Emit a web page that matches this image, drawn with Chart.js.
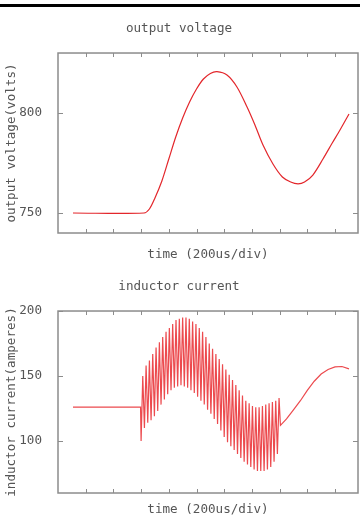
<!DOCTYPE html>
<html>
<head>
<meta charset="utf-8">
<script src="https://cdn.jsdelivr.net/npm/chart.js@4/dist/chart.umd.min.js"></script>
<style>
  html, body { margin: 0; padding: 0; background: #fff; overflow: hidden; }
  body { width: 360px; height: 516px; position: relative; }
  #bar { position: absolute; left: 0; top: 4px; width: 360px; height: 3px; background: #000; }
  canvas { position: absolute; left: 0; filter: blur(0.4px); }
  #volt { top: 0; }
  #curr { top: 266px; }
</style>
</head>
<body>
<div id="bar"></div>
<canvas id="volt" width="360" height="266"></canvas>
<canvas id="curr" width="360" height="260"></canvas>
<script>
// time in microseconds (200us per division)
const timeTicks = [200, 400, 600, 800, 1000, 1200, 1400, 1600, 1800, 2000];

const voltTime = [108, 621, 660, 700, 750, 800, 850, 900, 950, 1000, 1050, 1100, 1148,
  1220, 1292, 1365, 1422, 1480, 1552, 1620, 1680, 1733, 1780, 1840, 1913, 1980, 2036, 2101];
const voltValues = [750, 750, 752, 757.5, 766, 777, 788, 797.5, 805.5, 812, 817, 819.8, 820.7,
  819, 813, 803, 794, 784, 774.5, 768, 765.5, 764.6, 765.5, 769, 777, 785, 791.5, 799.5];
const voltTicks = [750, 800];

// switching ripple: low / high pairs, then the recovery after the ripple stops
const currTime = [108, 596,
  600, 612, 624, 636, 648, 660, 672, 684, 696, 708, 720, 732, 744, 756,
  768, 780, 792, 804, 816, 828, 840, 852, 864, 876, 888, 900, 912, 924,
  936, 948, 960, 972, 984, 996, 1008, 1020, 1032, 1044, 1056, 1068, 1080, 1092,
  1104, 1116, 1128, 1140, 1152, 1164, 1176, 1188, 1200, 1212, 1224, 1236, 1248, 1260,
  1272, 1284, 1296, 1308, 1320, 1332, 1344, 1356, 1368, 1380, 1392, 1404, 1416, 1428,
  1440, 1452, 1464, 1476, 1488, 1500, 1512, 1524, 1536, 1548, 1560, 1572, 1584, 1596,
  1606, 1650, 1700, 1750, 1800, 1850, 1900, 1950, 2000, 2050, 2101];
const currValues = [126, 126,
  100, 150, 110, 158, 114, 162, 116, 167, 119, 172, 123, 176, 128, 180,
  132, 184, 136, 187, 139, 190, 141, 193, 142, 194, 143, 195, 142, 195,
  141, 194, 139, 192, 137, 190, 134, 187, 131, 184, 128, 180, 124, 175,
  121, 171, 117, 167, 113, 163, 108, 159, 103, 155, 99, 151, 96, 147,
  93, 143, 90, 139, 87, 135, 84, 131, 82, 129, 80, 127, 78, 126,
  77, 126, 77, 127, 77, 128, 78, 129, 80, 130, 84, 131, 90, 133,
  112, 117, 124, 131, 139, 146, 151.5, 155, 157, 157.3, 155.5];
const currTicks = [100, 150, 200];

const mono = { family: '"DejaVu Sans Mono", monospace', size: 12.6, weight: 'normal' };
const ink = '#555';

const frame = {
  id: 'frame',
  beforeDatasetsDraw(chart) {
    const { ctx, chartArea: a, scales: { x, y } } = chart;
    ctx.save();
    ctx.strokeStyle = '#8c8c8c';
    ctx.lineWidth = 1.5;
    ctx.strokeRect(a.left, a.top, a.width, a.height);
    ctx.lineWidth = 1;
    ctx.beginPath();
    x.ticks.forEach(t => {
      const px = Math.round(x.getPixelForValue(t.value)) + 0.5;
      ctx.moveTo(px, a.top); ctx.lineTo(px, a.top + 4);
      ctx.moveTo(px, a.bottom); ctx.lineTo(px, a.bottom - 4);
    });
    y.ticks.forEach(t => {
      const py = Math.round(y.getPixelForValue(t.value)) + 0.5;
      ctx.moveTo(a.left, py); ctx.lineTo(a.left + 5, py);
      ctx.moveTo(a.right, py); ctx.lineTo(a.right - 5, py);
    });
    ctx.stroke();
    ctx.restore();
  }
};

function makeChart(id, o) {
  return new Chart(document.getElementById(id), {
    type: 'line',
    data: {
      datasets: [{
        data: o.time.map((t, i) => ({ x: t, y: o.values[i] })),
        borderColor: o.color,
        borderWidth: 1.2,
        pointRadius: 0,
        tension: o.tension
      }]
    },
    options: {
      responsive: false,
      animation: false,
      layout: { padding: { right: 2 } },
      plugins: {
        legend: { display: false },
        tooltip: { enabled: false },
        title: {
          display: true,
          text: o.title,
          color: ink,
          font: mono,
          padding: o.titlePad
        }
      },
      scales: {
        x: {
          type: 'linear',
          min: 0,
          max: 2166,
          afterBuildTicks: s => { s.ticks = timeTicks.map(v => ({ value: v })); },
          afterFit: s => { s.height = o.xHeight; },
          ticks: { display: false },
          grid: { display: false },
          border: { display: false },
          title: {
            display: true,
            text: 'time (200us/div)',
            color: ink,
            font: mono,
            padding: { top: 0, bottom: o.xTitleBottom }
          }
        },
        y: {
          min: o.min,
          max: o.max,
          afterBuildTicks: s => { s.ticks = o.ticks.map(v => ({ value: v })); },
          afterFit: s => { s.width = 58; },
          ticks: { color: ink, font: mono, padding: 8 },
          grid: { display: false },
          border: { display: false },
          title: {
            display: true,
            text: o.yTitle,
            color: ink,
            font: mono,
            padding: { top: 4.4, bottom: 0 }
          }
        }
      }
    },
    plugins: [frame]
  });
}

makeChart('volt', {
  time: voltTime, values: voltValues, ticks: voltTicks,
  min: 740, max: 830, tension: 0.3, color: '#e3262b',
  title: 'output voltage', yTitle: 'output voltage(volts)',
  titlePad: { top: 21.5, bottom: 16.4 }, xHeight: 33, xTitleBottom: 3.4
});

makeChart('curr', {
  time: currTime, values: currValues, ticks: currTicks,
  min: 60, max: 200, tension: 0, color: '#ec4a4e',
  title: 'inductor current', yTitle: 'inductor current(amperes)',
  titlePad: { top: 13.4, bottom: 16.5 }, xHeight: 33, xTitleBottom: 8.4
});
</script>
</body>
</html>
